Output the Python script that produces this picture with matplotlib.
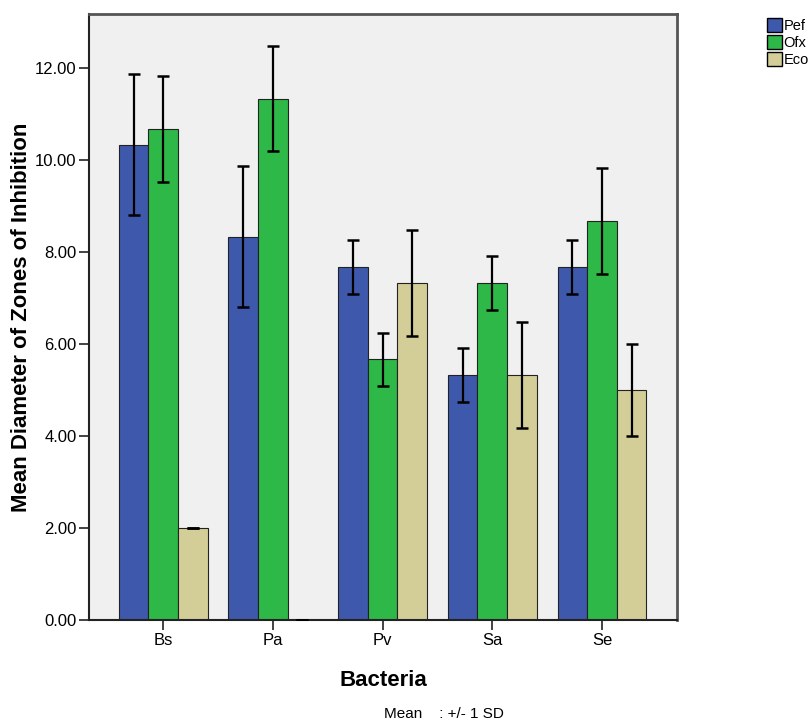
import numpy as np
import matplotlib.pyplot as plt
from matplotlib.patches import Patch

plt.rcParams["font.family"] = ["Liberation Sans", "DejaVu Sans"]

# Data
bacteria = ["Bs", "Pa", "Pv", "Sa", "Se"]
drugs = ["Pef", "Ofx", "Eco"]
pef_mean = [10.33, 8.33, 7.67, 5.33, 7.67]
ofx_mean = [10.67, 11.33, 5.67, 7.33, 8.67]
eco_mean = [2.00, 0.00, 7.33, 5.33, 5.00]
pef_sd = [1.53, 1.53, 0.58, 0.58, 0.58]
ofx_sd = [1.15, 1.15, 0.58, 0.58, 1.15]
eco_sd = [0.00, 0.00, 1.15, 1.15, 1.00]

colors = ["#3E58AC", "#2EB848", "#D3CE97"]
means = [pef_mean, ofx_mean, eco_mean]
sds = [pef_sd, ofx_sd, eco_sd]

fig = plt.figure(figsize=(8.1, 7.24), dpi=100)
ax = fig.add_axes([0.110, 0.143, 0.726, 0.838])
ax.set_facecolor("#F0F0F0")

x = np.arange(len(bacteria))
w = 0.27
for i in range(3):
    pos = x + (i - 1) * w
    ax.bar(pos, means[i], width=w, color=colors[i], edgecolor="#222222",
           linewidth=0.8, zorder=2)
    ax.errorbar(pos, means[i], yerr=sds[i], fmt="none", ecolor="black",
                elinewidth=1.6, capsize=4, capthick=1.8, zorder=3)

ax.set_xlim(-0.675, 4.685)
ax.set_ylim(0, 13.17)
ax.set_yticks(np.arange(0, 13, 2))
ax.set_yticklabels([f"{v:.2f}" for v in np.arange(0, 13, 2)], fontsize=12)
ax.set_xticks(x)
ax.set_xticklabels(bacteria, fontsize=12)
ax.tick_params(axis="both", length=7, width=1.2, color="#222222", pad=2)

for s in ["left", "bottom"]:
    ax.spines[s].set_color("#222222")
    ax.spines[s].set_linewidth(1.5)
for s in ["top", "right"]:
    ax.spines[s].set_color("#555555")
    ax.spines[s].set_linewidth(2)

ax.set_ylabel("Mean Diameter of Zones of Inhibition", fontsize=16,
              fontweight="bold", labelpad=2)
ax.set_xlabel("Bacteria", fontsize=16, fontweight="bold", labelpad=16)

handles = [Patch(facecolor=c, edgecolor="black", linewidth=1) for c in colors]
fig.legend(handles, drugs, loc="upper left", bbox_to_anchor=(0.938, 0.985),
           frameon=False, fontsize=10.5, handlelength=1.0, handleheight=1.1,
           handletextpad=0.12, labelspacing=0.12, borderpad=0)

fig.text(0.474, 0.008, "Mean    : +/- 1 SD", fontsize=11, ha="left")

fig.savefig("out.png", dpi=100)
